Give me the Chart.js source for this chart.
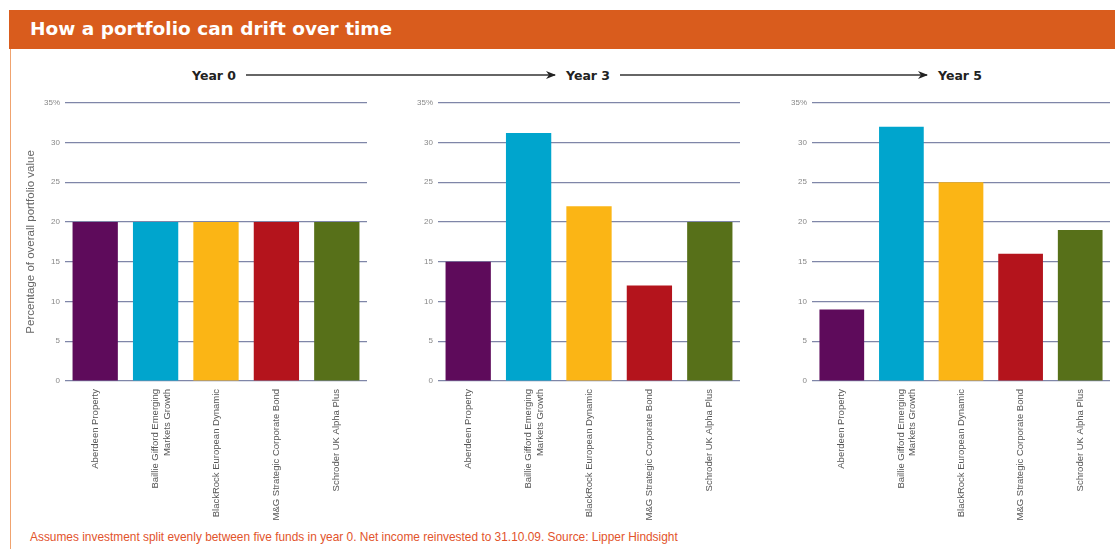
<!DOCTYPE html>
<html>
<head>
<meta charset="utf-8">
<script src="https://cdn.jsdelivr.net/npm/chart.js@4.4.1/dist/chart.umd.min.js"></script>
<style>
  body { margin: 0; background: #fff; font-family: "Liberation Sans", Arial, sans-serif; }
  #page { position: relative; width: 1115px; height: 549px; overflow: hidden; }
  #header { position: absolute; left: 9px; top: 10px; width: 1106px; height: 39px; background: #d95c1d; }
  #header span { position: absolute; left: 21px; top: 8px; color: #fff; font-weight: bold; font-size: 18.5px; font-family: "DejaVu Sans", sans-serif; }
  #leftline { position: absolute; left: 10px; top: 49px; width: 1px; height: 500px; background: #f0a36f; }
  .panel { position: absolute; top: 93px; height: 433px; }
  #note { position: absolute; left: 30px; top: 530px; color: #e2532b; font-size: 11.9px; white-space: nowrap; }
  svg { position: absolute; left: 0; top: 0; }
</style>
</head>
<body>
<div id="page">
  <div id="header"><span>How a portfolio can drift over time</span></div>
  <div id="leftline"></div>
  <svg width="1115" height="100">
    <defs>
      <marker id="ah" markerWidth="10" markerHeight="8" refX="9" refY="4" orient="auto" markerUnits="userSpaceOnUse">
        <path d="M0,0 L10,4 L0,8 L3,4 Z" fill="#222"/>
      </marker>
    </defs>
    <g font-family="DejaVu Sans, sans-serif" font-weight="bold" font-size="12.5" fill="#222">
      <text x="192" y="80">Year 0</text>
      <text x="566" y="80">Year 3</text>
      <text x="938" y="80">Year 5</text>
    </g>
    <line x1="246" y1="75" x2="555" y2="75" stroke="#333" stroke-width="1.3" marker-end="url(#ah)"/>
    <line x1="620" y1="75" x2="927" y2="75" stroke="#333" stroke-width="1.3" marker-end="url(#ah)"/>
  </svg>
  <div class="panel" style="left:24px;width:346px"><canvas id="c0"></canvas></div>
  <div class="panel" style="left:405px;width:338px"><canvas id="c3"></canvas></div>
  <div class="panel" style="left:779px;width:334px"><canvas id="c5"></canvas></div>
  <div id="note">Assumes investment split evenly between five funds in year 0. Net income reinvested to 31.10.09. Source: Lipper Hindsight</div>
</div>
<script>
// fund names (two-line label for the long one)
const funds = [
  'Aberdeen Property',
  ['Baillie Gifford Emerging', 'Markets Growth'],
  'BlackRock European Dynamic',
  'M&G Strategic Corporate Bond',
  'Schroder UK Alpha Plus'
];

// share of portfolio, %
const year0 = [20, 20, 20, 20, 20];
const year3 = [15, 31.2, 22, 12, 20];
const year5 = [9, 32, 25, 16, 19];

const fundColors = ['#5e0b5b', '#00a5cd', '#fbb515', '#b4141c', '#577019'];
const yMax = 35;
const yStep = 5;

function makeChart(id, values, yWidth, showTitle) {
  const ctx = document.getElementById(id).getContext('2d');
  return new Chart(ctx, {
    type: 'bar',
    data: {
      labels: funds,
      datasets: [{
        data: values,
        backgroundColor: fundColors,
        barPercentage: 0.75,
        categoryPercentage: 1
      }]
    },
    options: {
      responsive: true,
      maintainAspectRatio: false,
      animation: false,
      layout: { padding: { right: 3 } },
      plugins: { legend: { display: false }, tooltip: { enabled: false } },
      scales: {
        x: {
          grid: { display: false },
          border: { display: false },
          ticks: {
            autoSkip: false, minRotation: 90, maxRotation: 90, padding: 0,
            color: '#555', font: { family: 'Liberation Sans', size: 9.5 }
          },
          afterFit: s => { s.height = 145; }
        },
        y: {
          min: 0, max: yMax,
          border: { display: false },
          grid: { color: '#7f86a8', lineWidth: 1.2, drawTicks: false },
          ticks: {
            stepSize: yStep, padding: 5, color: '#888',
            font: { family: 'Liberation Sans', size: 8 },
            callback: v => v === yMax ? v + '%' : v
          },
          title: {
            display: showTitle,
            text: 'Percentage of overall portfolio value',
            color: '#666',
            font: { family: 'Liberation Sans', size: 11.5 },
            padding: 0
          },
          afterFit: s => { s.width = yWidth; }
        }
      }
    }
  });
}

makeChart('c0', year0, 41, true);
makeChart('c3', year3, 33, false);
makeChart('c5', year5, 33, false);
</script>
</body>
</html>
